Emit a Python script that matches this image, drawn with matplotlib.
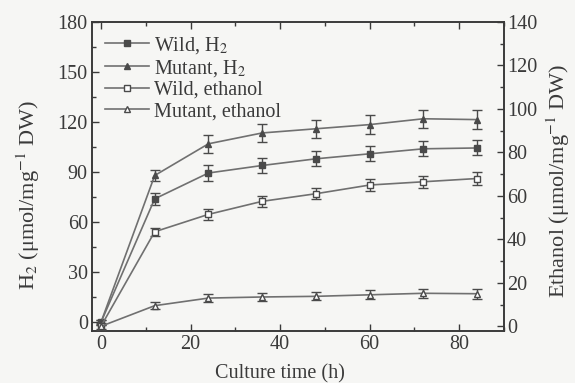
import matplotlib
matplotlib.use("Agg")
import matplotlib.pyplot as plt
from matplotlib.ticker import MultipleLocator
from matplotlib.lines import Line2D

plt.rcParams['font.family'] = ['Liberation Serif', 'DejaVu Serif']
plt.rcParams['mathtext.fontset'] = 'stix'

time_h = [0, 12, 24, 36, 48, 60, 72, 84]
wild_h2 = [0, 74, 89.5, 94, 98, 101, 104, 104.5]
wild_h2_err = [1.5, 3.5, 4.5, 4.5, 4.5, 4.5, 4.5, 4.5]
mutant_h2 = [0, 88, 107, 113.5, 116, 118.5, 122, 121.5]
mutant_h2_err = [1.5, 3.5, 5.5, 5.5, 5.5, 5.5, 5.5, 5.5]
wild_eth = [0, 43.5, 51.5, 57.5, 61, 65, 66.5, 68]
wild_eth_err = [1.5, 1.8, 2.5, 2.5, 2.5, 2.8, 2.8, 3.0]
mutant_eth = [0, 9.5, 13, 13.5, 13.8, 14.5, 15.2, 15.0]
mutant_eth_err = [1.0, 1.5, 2.0, 2.0, 1.8, 2.0, 2.2, 2.2]

labels = ['Wild, H$_2$', 'Mutant, H$_2$', 'Wild, ethanol', 'Mutant, ethanol']

bg = '#f6f6f4'
fg = '#3a3a3a'
lc = '#707070'
mc = '#4a4a4a'
fs = 14.5
fsy = 16

fig = plt.figure(figsize=(5.75, 3.83), dpi=100, facecolor=bg)
ax = fig.add_axes([0.16, 0.1366, 0.7165, 0.806])
ax.set_facecolor(bg)
ax2 = ax.twinx()

ekw = dict(color=lc, ecolor=mc, elinewidth=1.0, capsize=3.5, capthick=1.0, lw=1.2,
           markersize=5, markeredgewidth=1.0, zorder=3)
ax.errorbar(time_h, wild_h2, yerr=wild_h2_err, marker='s', mfc=mc, mec=mc, **ekw)
ax.errorbar(time_h, mutant_h2, yerr=mutant_h2_err, marker='^', mfc=mc, mec=mc, **ekw)
ax2.errorbar(time_h, wild_eth, yerr=wild_eth_err, marker='s', mfc='white', mec=mc, **ekw)
ax2.errorbar(time_h, mutant_eth, yerr=mutant_eth_err, marker='^', mfc='white', mec=mc, **ekw)

ax.set_xlim(-2, 90)
ax.set_ylim(-5, 180)
ax2.set_ylim(-2, 140)

ax.xaxis.set_major_locator(MultipleLocator(20))
ax.xaxis.set_minor_locator(MultipleLocator(10))
ax.yaxis.set_major_locator(MultipleLocator(30))
ax.yaxis.set_minor_locator(MultipleLocator(15))
ax2.yaxis.set_major_locator(MultipleLocator(20))
ax2.yaxis.set_minor_locator(MultipleLocator(10))

for a in (ax, ax2):
    for s in a.spines.values():
        s.set_color(fg)
        s.set_linewidth(1.2)
ax.tick_params(axis='both', which='both', direction='in', colors=fg, labelsize=fs, width=1.0)
ax.tick_params(axis='x', which='both', top=True)
ax.tick_params(axis='y', pad=3)
ax.tick_params(axis='x', pad=3)
ax.tick_params(which='major', length=5)
ax.tick_params(which='minor', length=3)
ax2.tick_params(axis='y', which='both', direction='in', colors=fg, labelsize=fs, width=1.0, pad=2)
ax2.tick_params(which='major', length=5)
ax2.tick_params(which='minor', length=3)

ax.set_xlabel('Culture time (h)', fontsize=fs, color=fg, va='center')
ax.xaxis.set_label_coords(0.455, -0.14)
ax.set_ylabel('H$_2$ (μmol/mg$^{-1}$ DW)', fontsize=fsy, color=fg, va='center')
ax.yaxis.set_label_coords(-0.155, 0.44)
ax2.set_ylabel('Ethanol (μmol/mg$^{-1}$ DW)', fontsize=fsy, color=fg, va='center')
ax2.yaxis.set_label_coords(1.132, 0.485)

handles = [
    Line2D([], [], color=lc, lw=1.2, marker='s', ms=5, mfc=mc, mec=mc),
    Line2D([], [], color=lc, lw=1.2, marker='^', ms=5, mfc=mc, mec=mc),
    Line2D([], [], color=lc, lw=1.2, marker='s', ms=5, mfc='white', mec=mc),
    Line2D([], [], color=lc, lw=1.2, marker='^', ms=5, mfc='white', mec=mc),
]
leg = ax2.legend(handles=handles, labels=labels, loc='upper left',
                 bbox_to_anchor=(0.0, 1.0), frameon=False, fontsize=fs,
                 handlelength=2.2, handletextpad=0.25, labelspacing=0.1,
                 borderaxespad=0.25)
for t in leg.get_texts():
    t.set_color(fg)

fig.savefig('out.png', dpi=100, facecolor=bg)
